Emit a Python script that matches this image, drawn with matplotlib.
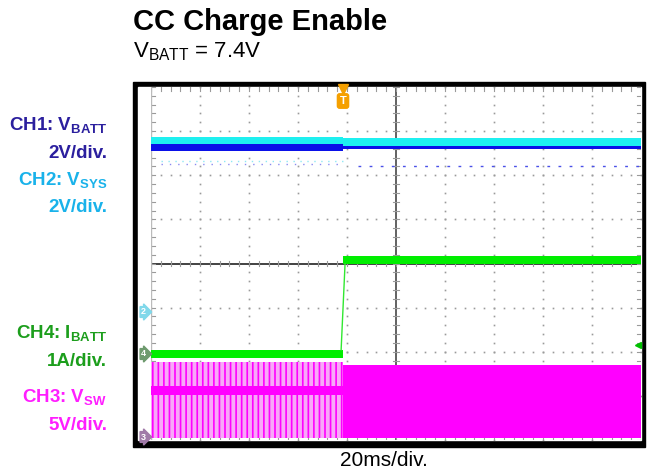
import numpy as np
import matplotlib
matplotlib.use("Agg")
import matplotlib.pyplot as plt
from matplotlib.patches import Rectangle

plt.rcParams['font.family'] = ['Liberation Sans', 'DejaVu Sans']
plt.rcParams['mathtext.default'] = 'regular'
plt.rcParams['hatch.color'] = '#ff00ff'
plt.rcParams['hatch.linewidth'] = 1.2

# time axis in divisions (20 ms/div, 10 div), step happens at trigger
t_step = 3.92
t = [0, t_step, t_step, 10]

# trace bands, in screen divisions (0 = bottom, 8 = top)
vsys_lo = [6.71, 6.71, 6.67, 6.67]
vsys_hi = [6.87, 6.87, 6.85, 6.85]
vbatt_lo = [6.55, 6.55, 6.60, 6.60]
vbatt_hi = [6.71, 6.71, 6.67, 6.67]
ibatt_lo = [1.86, 1.86, 3.99, 3.99]
ibatt_hi = [2.04, 2.04, 4.17, 4.17]
vsw_lo = [0.05, 0.05, 0.05, 0.05]
vsw_hi = [1.77, 1.77, 1.70, 1.70]
vsw_band = [1.02, 1.22]   # dense band before the step
# faint sparse glitch rows under CH1/CH2
glitch_pre = [6.32, 6.25]
glitch_post = 6.20

# channel labels: (main, subscript, scale, colour)
labels = [
    ("CH1: V", "BATT", "2V/div.", "#2b1f9e"),
    ("CH2: V", "SYS", "2V/div.", "#19b2ea"),
    ("CH4: I", "BATT", "1A/div.", "#1c9e1c"),
    ("CH3: V", "SW", "5V/div.", "#ff1eff"),
]
label_y = [125, 180, 333, 397]

W, H = 650, 472
fig = plt.figure(figsize=(6.5, 4.72), dpi=100)

def fx(px):
    return px / W

def fy(py):
    return 1 - py / H

# scope frame
fig.patches.append(Rectangle((fx(133), fy(447)), fx(645) - fx(133), fy(82) - fy(447),
                             transform=fig.transFigure, color='black', zorder=-2))
fig.patches.append(Rectangle((fx(138), fy(440)), fx(641) - fx(138), fy(87) - fy(440),
                             transform=fig.transFigure, color='white', zorder=-1))

ax = fig.add_axes([fx(151), fy(440), fx(641) - fx(151), fy(87) - fy(440)])
ax.set_zorder(1)
ax.set_xlim(0, 10)
ax.set_ylim(0, 8)
ax.axis('off')

# graticule
gc = '#9a9a9a'
minor = np.arange(0, 10.01, 0.2)
minor_y = np.arange(0, 8.01, 0.2)
for gx in range(1, 10):
    if gx != 5:
        ax.plot([gx] * len(minor_y), minor_y, ls='none', marker='s', ms=1.2, mew=0, color=gc, zorder=1)
for gy in range(1, 8):
    if gy != 4:
        ax.plot(minor, [gy] * len(minor), ls='none', marker='s', ms=1.2, mew=0, color=gc, zorder=1)
ax.axvline(5, color='#555555', lw=1.3, zorder=1)
ax.axhline(4, color='#333333', lw=1.3, zorder=1)
tl = 0.06
for mx in minor:
    ax.plot([mx, mx], [4 - tl, 4 + tl], color=gc, lw=0.8, zorder=1)
    ax.plot([mx, mx], [8 - tl * 1.5, 8], color=gc, lw=0.8, zorder=1)
    ax.plot([mx, mx], [0, tl * 1.5], color=gc, lw=0.8, zorder=1)
for my in minor_y:
    ax.plot([5 - tl, 5 + tl], [my, my], color=gc, lw=0.8, zorder=1)
    ax.plot([0, tl * 1.5], [my, my], color=gc, lw=0.8, zorder=1)
    ax.plot([10 - tl * 1.5, 10], [my, my], color=gc, lw=0.8, zorder=1)
ax.plot([0, 0], [0, 8], color='#bbbbbb', lw=1, zorder=1)

# traces
ax.fill_between(t, vsys_lo, vsys_hi, color='#1ef0f0', lw=0, zorder=3)
ax.fill_between(t, vbatt_lo, vbatt_hi, color='#0a10e8', lw=0, zorder=3)
ax.plot([0.2, t_step], [glitch_pre[0]] * 2, color='#8ee8f4', lw=1, ls=(0, (1, 4)), zorder=3)
ax.plot([0.2, t_step], [glitch_pre[1]] * 2, color='#8a8af0', lw=1, ls=(0, (1, 5)), zorder=3)
ax.plot([t_step + 0.3, 10], [glitch_post] * 2, color='#4a50e8', lw=1, ls=(0, (2, 6)), zorder=3)
ax.fill_between(t, ibatt_lo, ibatt_hi, color='#00ee00', lw=0, zorder=3)
ax.plot([t_step - 0.04, t_step + 0.04], [ibatt_hi[0], ibatt_lo[2]], color='#30e830', lw=1, zorder=3)

# VSW: switching before the step, solid after
ax.fill_between(t[:2], vsw_lo[:2], vsw_hi[:2], facecolor='#f8a8f8', edgecolor='#ff00ff',
                hatch='|||', lw=0, zorder=2)
ax.fill_between(t[:2], [vsw_band[0]] * 2, [vsw_band[1]] * 2, color='#ff00ff', lw=0, zorder=2)
ax.fill_between(t[2:], vsw_lo[2:], vsw_hi[2:], color='#ff00ff', lw=0, zorder=2)

# trigger marker
ax.plot(t_step, 7.96, marker='v', color='#f5a000', ms=7, clip_on=False, zorder=5)
fig.text(fx(343), fy(101), 'T', color='white', fontsize=8, fontweight='bold', ha='center', va='center',
         bbox=dict(boxstyle='round,pad=0.2', fc='#f5a000', ec='#f5a000'))

# channel markers on the left strip
for txt, py, col in [('2', 312, '#80d8ea'), ('4', 354, '#6e9a6e'), ('3', 437, '#a07aa8')]:
    fig.text(fx(141), fy(py), txt, color='white', fontsize=6.5, fontweight='bold', ha='left', va='center',
             bbox=dict(boxstyle='rarrow,pad=0.1', fc=col, ec=col))
ax.plot(9.94, (440 - 345) / 44.1, marker='<', color='#00c000', ms=4, clip_on=False, zorder=5)

# left labels
for (main, sub, scale, col), py in zip(labels, label_y):
    fig.text(fx(107), fy(py), main + r'$_\mathregular{' + sub + '}$', color=col, fontsize=13.5,
             fontweight='bold', ha='right', va='center')
    fig.text(fx(107), fy(py + 28), scale, color=col, fontsize=13.5, fontweight='bold',
             ha='right', va='center')

# titles
fig.text(fx(133), fy(22), 'CC Charge Enable', fontsize=21, fontweight='bold', ha='left', va='center')
fig.text(fx(133), fy(52), r'V$_\mathregular{BATT}$ = 7.4V', fontsize=16, ha='left', va='center')
fig.text(fx(384), fy(461), '20ms/div.', fontsize=15, ha='center', va='center')

fig.savefig('out.png', dpi=100)
